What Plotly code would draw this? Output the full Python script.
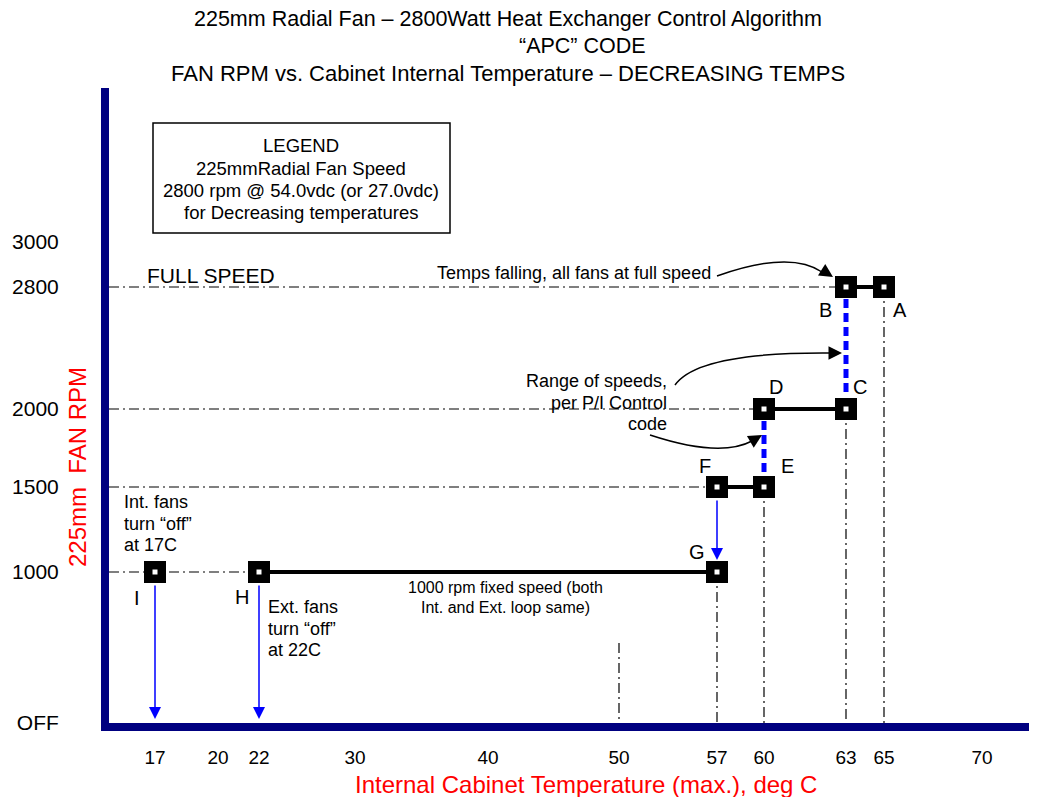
import numpy as np
import plotly.graph_objects as go

# ---- chart values ----
x_tick_vals = [17, 20, 22, 30, 40, 50, 57, 60, 63, 65, 70]
y_tick_vals = [0, 1000, 1500, 2000, 2800, 3000]
y_tick_text = ["OFF", "1000", "1500", "2000", "2800", "3000"]

point_names = ["A", "B", "C", "D", "E", "F", "G", "H", "I"]
point_temps = [65, 63, 63, 60, 60, 57, 57, 22, 17]
point_rpm = [2800, 2800, 2000, 2000, 1500, 1500, 1000, 1000, 1000]

solid_steps = [("A", "B"), ("C", "D"), ("E", "F"), ("G", "H")]
ramp_steps = [("B", "C"), ("D", "E")]
drop_arrows = [("F", "G"), ("I", None), ("H", None)]
rpm_guides = ["B", "D", "F", "H"]      # dash-dot from rpm axis to point
temp_guides = ["A", "C", "E", "G"]     # dash-dot from point down to temp axis
extra_temp_guide = (50, 530)

# ---- schematic (not to scale) axis placement, in page pixels ----
X_POS = [155, 218, 259, 355, 488, 619, 717, 764, 846, 884, 982]
Y_POS = [723, 572, 487, 409, 287, 242]
L, R, T, B = 109, 1037, 88, 723
PAGE_OFF = 8  # body margin of the html page

FONT = "Liberation Sans, Arial, sans-serif"
DASHDOT = "10px,4px,2px,4px"


def sx(t):
    return float(np.interp(t, x_tick_vals, X_POS))


def sy(r):
    return float(np.interp(r, y_tick_vals, Y_POS))


def paper(xp, yp):
    return (xp - L) / (R - L), (B - yp) / (B - T)


pts = {n: (sx(t), sy(r)) for n, t, r in zip(point_names, point_temps, point_rpm)}

fig = go.Figure()

# guide lines
for n in rpm_guides:
    x, y = pts[n]
    fig.add_trace(go.Scatter(x=[L, x], y=[y, y], mode="lines",
                             line=dict(color="black", width=1.2, dash=DASHDOT)))
for n in temp_guides:
    x, y = pts[n]
    fig.add_trace(go.Scatter(x=[x, x], y=[y, B], mode="lines",
                             line=dict(color="black", width=1.2, dash=DASHDOT)))
fig.add_trace(go.Scatter(x=[sx(extra_temp_guide[0])] * 2,
                         y=[sy(extra_temp_guide[1]), B], mode="lines",
                         line=dict(color="black", width=1.2, dash=DASHDOT)))

# fan speed steps
for a, b in solid_steps:
    fig.add_trace(go.Scatter(x=[pts[a][0], pts[b][0]], y=[pts[a][1], pts[b][1]],
                             mode="lines", line=dict(color="black", width=4)))
for a, b in ramp_steps:
    fig.add_trace(go.Scatter(x=[pts[a][0], pts[b][0]], y=[pts[a][1] + 12, pts[b][1] - 12],
                             mode="lines", line=dict(color="#0000ff", width=5, dash="9px,5px")))

# blue drop arrows
for a, b in drop_arrows:
    x, y = pts[a]
    y_end = pts[b][1] - 12 if b else sy(0) - 4
    fig.add_annotation(x=x, y=y_end, ax=x, ay=y + 12, xref="x", yref="y",
                       axref="x", ayref="y", text="", showarrow=True,
                       arrowhead=2, arrowsize=1.6, arrowwidth=1.5,
                       arrowcolor="#0000ff", standoff=0)

# square markers
xs = [pts[n][0] for n in point_names]
ys = [pts[n][1] for n in point_names]
fig.add_trace(go.Scatter(x=xs, y=ys, mode="markers",
                         marker=dict(symbol="square", size=22, color="black",
                                     line=dict(width=0))))
fig.add_trace(go.Scatter(x=xs, y=ys, mode="markers",
                         marker=dict(symbol="square", size=5, color="white",
                                     line=dict(width=0))))

# point letters
label_offset = {"A": (16, 23), "B": (-21, 23), "C": (14, -22), "D": (12, -22),
                "E": (23, -21), "F": (-12, -21), "G": (-20, -20),
                "H": (-17, 25), "I": (-18, 26)}
for n in point_names:
    x, y = pts[n]
    dx, dy = label_offset[n]
    fig.add_annotation(x=x + dx, y=y + dy, xref="x", yref="y", text=n,
                       showarrow=False, font=dict(size=20, color="black"))


def text_lines(lines, x, y0, step, size, anchor="center", color="black"):
    for i, s in enumerate(lines):
        px_, py_ = paper(x, y0 + i * step)
        fig.add_annotation(x=px_, y=py_, xref="paper", yref="paper", text=s,
                           showarrow=False, xanchor=anchor, yanchor="middle",
                           font=dict(size=size, color=color))


# titles
text_lines(["225mm Radial Fan \u2013 2800Watt Heat Exchanger Control Algorithm"], 508, 19, 0, 21.5)
text_lines(["\u201cAPC\u201d CODE"], 582, 46, 0, 21.5)
text_lines(["FAN RPM vs. Cabinet Internal Temperature \u2013 DECREASING TEMPS"], 508, 73, 0, 22)

# legend box
fig.add_shape(type="rect", x0=153, x1=450, y0=123, y1=233, xref="x", yref="y",
              line=dict(color="black", width=1.5), fillcolor="rgba(0,0,0,0)")
text_lines(["LEGEND", "225mmRadial Fan Speed", "2800 rpm @ 54.0vdc (or 27.0vdc)",
            "for Decreasing temperatures"], 301, 146, 22, 18.5)

# callouts
text_lines(["FULL SPEED"], 145, 275, 0, 21, "left")
text_lines(["Temps falling, all fans at full speed"], 435, 273, 0, 18, "left")
text_lines(["Range of speeds,", "per P/I Control", "code"], 669, 381, 21.5, 18, "right")
text_lines(["Int. fans", "turn \u201coff\u201d", "at 17C"], 122, 502, 21.5, 18, "left")
text_lines(["Ext. fans", "turn \u201coff\u201d", "at 22C"], 266, 607, 21.5, 18, "left")
text_lines(["1000 rpm fixed speed (both", "Int. and Ext. loop same)"], 505, 587, 20, 16)


def curved_arrow(p0, c, p1, tip, dx, dy):
    fig.add_shape(type="path", xref="x", yref="y",
                  path=f"M {p0[0]},{p0[1]} Q {c[0]},{c[1]} {p1[0]},{p1[1]}",
                  line=dict(color="black", width=1.5))
    fig.add_annotation(x=tip[0], y=tip[1], xref="x", yref="y", ax=dx, ay=dy,
                       text="", showarrow=True, arrowhead=2, arrowsize=1.8,
                       arrowwidth=1.5, arrowcolor="black", standoff=0)


bx, by = pts["B"]
curved_arrow((717, 276), (790, 250), (822, 272), (bx - 13, by - 10), -11, -7)
curved_arrow((675, 385), (698, 352), (830, 353), (bx - 4, 353), -14, 0)
dx_, dy_ = pts["D"]
curved_arrow((650, 435), (720, 458), (752, 441), (dx_ - 2, 435), -12, 7)

# axis titles
text_lines(["Internal Cabinet Temperature (max.), deg C"], 586, 784, 0, 24, color="red")
ypx, ypy = paper(77, 467)
fig.add_annotation(x=ypx, y=ypy, xref="paper", yref="paper", xanchor="center",
                   yanchor="middle", text="225mm  FAN RPM", textangle=-90,
                   showarrow=False, font=dict(size=24, color="red"))

W, H = 1037 - PAGE_OFF, 797 - PAGE_OFF
fig.update_layout(
    width=W, height=H,
    margin=dict(l=L - PAGE_OFF, r=W - (R - PAGE_OFF), t=T - PAGE_OFF,
                b=H - (B - PAGE_OFF), autoexpand=False),
    paper_bgcolor="white", plot_bgcolor="white",
    showlegend=False,
    font=dict(family=FONT, color="black"),
    xaxis=dict(range=[L, R], tickvals=X_POS, ticktext=[str(v) for v in x_tick_vals],
               showgrid=False, zeroline=False, showline=True, linewidth=8,
               linecolor="#000080", ticks="", ticklabelstandoff=10,
               automargin=False, tickfont=dict(size=19)),
    yaxis=dict(range=[B, T], tickvals=Y_POS, ticktext=y_tick_text,
               showgrid=False, zeroline=False, showline=True, linewidth=8,
               linecolor="#000080", ticks="", ticklabelstandoff=38,
               automargin=False, tickfont=dict(size=21)),
)

fig.write_html("out.html")
